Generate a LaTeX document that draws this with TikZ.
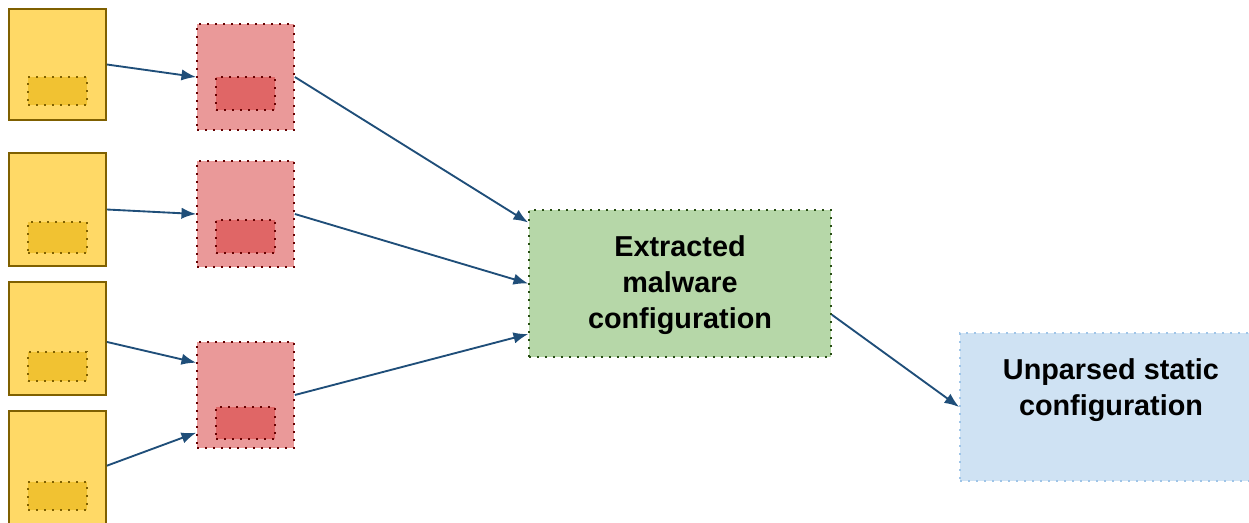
\documentclass[tikz,border=0pt]{standalone}
\usepackage{fontspec}
\setmainfont{Liberation Sans}
\usetikzlibrary{fit,calc,arrows.meta}
\definecolor{yfill}{HTML}{FFD966}
\definecolor{yline}{HTML}{7F6000}
\definecolor{yinner}{HTML}{F1C232}
\definecolor{rfill}{HTML}{EA9999}
\definecolor{rline}{HTML}{660000}
\definecolor{rinner}{HTML}{E06666}
\definecolor{gfill}{HTML}{B6D7A8}
\definecolor{gline}{HTML}{274E13}
\definecolor{bfill}{HTML}{CFE2F3}
\definecolor{bline}{HTML}{9FC5E8}
\definecolor{arrowc}{HTML}{1F4E79}
\tikzset{
  dotline/.style={line width=1.3pt, dash pattern=on 1.2pt off 4.8pt},
  ybox/.style={fit={#1}, inner sep=0pt, fill=yfill, draw=yline, line width=1.4pt},
  yin/.style={fit={#1}, inner sep=0pt, fill=yinner, draw=yline, dotline},
  rbox/.style={fit={#1}, inner sep=0pt, fill=rfill, draw=rline, dotline},
  rin/.style={fit={#1}, inner sep=0pt, fill=rinner, draw=rline, dotline},
  gbox/.style={fit={#1}, inner sep=0pt, fill=gfill, draw=gline, dotline},
  bbox/.style={fit={#1}, inner sep=0pt, fill=bfill, draw=bline, dotline},
  lbl/.style={align=center, font=\fontsize{21.6}{27}\selectfont\bfseries, text=black},
  conn/.style={draw=arrowc, line width=1.4pt, -{Latex[length=11pt,width=8.5pt]}},
}
\begin{document}
\begin{tikzpicture}[x=0.75pt,y=-0.75pt]
\useasboundingbox (0,0) rectangle (1249,522);
\clip (0,0) rectangle (1249,522);
% yellow boxes
\node[ybox={(9,9) (106,120)}] (y1) {};
\node[yin={(28,77) (87,105)}] (yi1) {};
\node[ybox={(9,153) (106,266)}] (y2) {};
\node[yin={(28,222) (87,253)}] (yi2) {};
\node[ybox={(9,282) (106,395)}] (y3) {};
\node[yin={(28,352) (87,381)}] (yi3) {};
\node[ybox={(9,411) (106,530)}] (y4) {};
\node[yin={(28,482) (87,510)}] (yi4) {};
% red boxes
\node[rbox={(197,24) (294,130)}] (r1) {};
\node[rin={(216,77) (275,110)}] (ri1) {};
\node[rbox={(197,161) (294,267)}] (r2) {};
\node[rin={(216,220) (275,253)}] (ri2) {};
\node[rbox={(197,342) (294,448)}] (r3) {};
\node[rin={(216,407) (275,439)}] (ri3) {};
% green and blue
\node[gbox={(529,210) (831,357)}] (g) {};
\node[lbl] (gt) at (680,285) {Extracted\\malware\\configuration};
\node[bbox={(960,333) (1262,481)}] (b) {};
\node[lbl] (bt) at (1111,390) {Unparsed static\\configuration};
% connectors
\draw[conn] ($(y1.north east)!0.5!(y1.south east)$) -- (r1.west);
\draw[conn] (y2.east) -- (r2.west);
\draw[conn] ($(y3.north east)!0.53!(y3.south east)$) -- ($(r3.north west)!0.2!(r3.south west)$);
\draw[conn] ($(y4.north east)!0.46!(y4.south east)$) -- ($(r3.north west)!0.85!(r3.south west)$);
\draw[conn] (r1.east) -- ($(g.north west)!0.09!(g.south west)$);
\draw[conn] (r2.east) -- (g.west);
\draw[conn] (r3.east) -- ($(g.north west)!0.84!(g.south west)$);
\draw[conn] ($(g.north east)!0.71!(g.south east)$) -- (b.west);
\end{tikzpicture}
\end{document}
